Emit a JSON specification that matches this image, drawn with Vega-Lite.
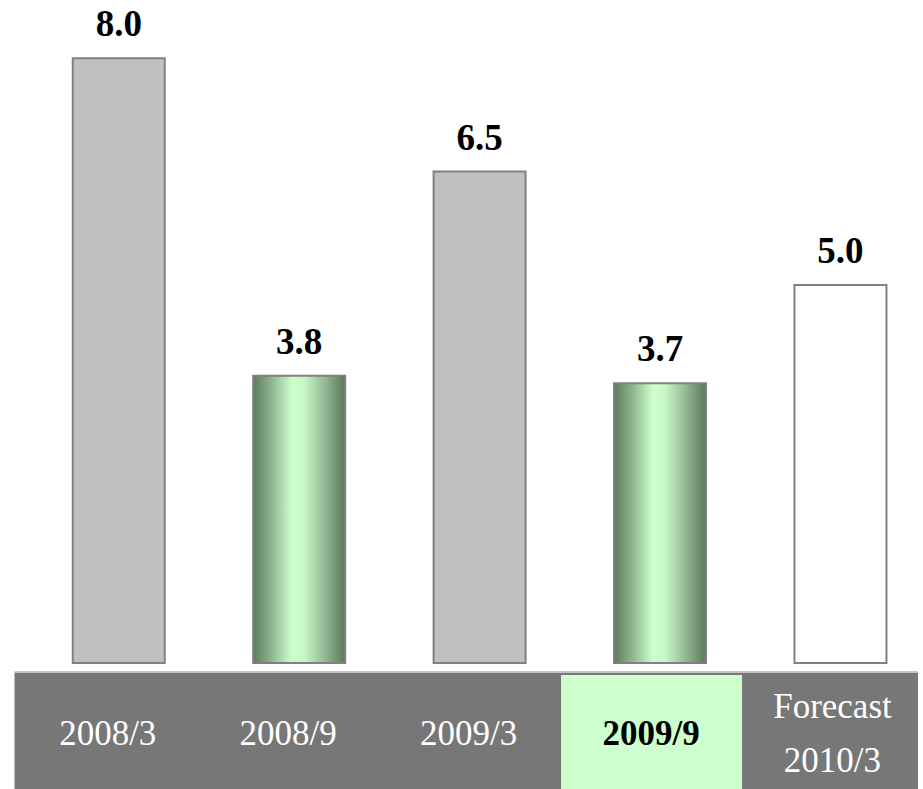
{
  "$schema": "https://vega.github.io/schema/vega-lite/v6.json",
  "width": 923,
  "height": 789,
  "autosize": {"type": "fit", "contains": "padding"},
  "padding": 0,
  "background": "white",
  "config": {"view": {"stroke": null}},
  "data": {"values": [
    {"i": 0, "period": "2008/3", "label": ["2008/3"], "value": 8.0, "kind": "past"},
    {"i": 1, "period": "2008/9", "label": ["2008/9"], "value": 3.8, "kind": "half"},
    {"i": 2, "period": "2009/3", "label": ["2009/3"], "value": 6.5, "kind": "past"},
    {"i": 3, "period": "2009/9", "label": ["2009/9"], "value": 3.7, "kind": "half"},
    {"i": 4, "period": "Forecast 2010/3", "label": ["Forecast", "2010/3"], "value": 5.0, "kind": "forecast"}
  ]},
  "encoding": {
    "x": {"field": "i", "type": "quantitative", "scale": {"domain": [-0.6305, 4.4298], "nice": false, "zero": false}, "axis": null}
  },
  "layer": [
    {
      "mark": {"type": "rect", "fill": "#777777"},
      "encoding": {
        "x": {"datum": -0.5757, "type": "quantitative"},
        "x2": {"datum": 4.4298},
        "y": {"datum": -0.119, "type": "quantitative", "scale": {"domain": [-1.667, 8.77], "nice": false, "zero": false}, "axis": null},
        "y2": {"datum": -1.667}
      }
    },
    {
      "mark": {"type": "rule", "color": "#c4c4c4", "strokeWidth": 1.5},
      "encoding": {
        "x": {"datum": -0.5757, "type": "quantitative"},
        "x2": {"datum": 4.4298},
        "y": {"datum": -0.119, "type": "quantitative"}
      }
    },
    {
      "transform": [{"filter": "datum.i == 3"}],
      "mark": {"type": "bar", "fill": "#ccffcc", "size": 181, "xOffset": -8.5},
      "encoding": {
        "y": {"datum": -0.159, "type": "quantitative"},
        "y2": {"datum": -1.667}
      }
    },
    {
      "transform": [{"filter": "datum.kind == 'past'"}],
      "mark": {"type": "bar", "fill": "#c0c0c0", "stroke": "#808080", "strokeWidth": 2, "size": 92},
      "encoding": {
        "y": {"field": "value", "type": "quantitative"},
        "y2": {"datum": 0}
      }
    },
    {
      "transform": [{"filter": "datum.kind == 'half'"}],
      "mark": {"type": "bar", "size": 92, "stroke": "#808080", "strokeWidth": 2,
        "fill": {"gradient": "linear", "x1": 0, "x2": 1, "y1": 0, "y2": 0,
          "stops": [
            {"offset": 0, "color": "#5c7c5c"},
            {"offset": 0.2, "color": "#8fb58f"},
            {"offset": 0.42, "color": "#ccffcc"},
            {"offset": 0.55, "color": "#c8f8c8"},
            {"offset": 0.8, "color": "#8fb28f"},
            {"offset": 1, "color": "#5a785a"}
          ]}},
      "encoding": {
        "y": {"field": "value", "type": "quantitative"},
        "y2": {"datum": 0}
      }
    },
    {
      "transform": [{"filter": "datum.kind == 'forecast'"}],
      "mark": {"type": "bar", "fill": "#ffffff", "stroke": "#808080", "strokeWidth": 2, "size": 92},
      "encoding": {
        "y": {"field": "value", "type": "quantitative"},
        "y2": {"datum": 0}
      }
    },
    {
      "mark": {"type": "text", "font": "Liberation Serif", "fontWeight": "bold", "fontSize": 37, "baseline": "alphabetic", "dy": -22, "color": "#000000"},
      "encoding": {
        "y": {"field": "value", "type": "quantitative"},
        "text": {"field": "value", "type": "quantitative", "format": ".1f"}
      }
    },
    {
      "transform": [{"filter": "datum.i < 3"}],
      "mark": {"type": "text", "font": "Liberation Serif", "fontSize": 35, "baseline": "middle", "dx": -11, "color": "#ffffff"},
      "encoding": {
        "y": {"datum": -0.939, "type": "quantitative"},
        "text": {"field": "period"}
      }
    },
    {
      "transform": [{"filter": "datum.i == 4"}],
      "mark": {"type": "text", "font": "Liberation Serif", "fontSize": 35, "baseline": "middle", "dx": -8, "dy": -27, "lineHeight": 54, "color": "#ffffff"},
      "encoding": {
        "y": {"datum": -0.939, "type": "quantitative"},
        "text": {"field": "label"}
      }
    },
    {
      "transform": [{"filter": "datum.i == 3"}],
      "mark": {"type": "text", "font": "Liberation Serif", "fontSize": 35, "fontWeight": "bold", "baseline": "middle", "dx": -9, "color": "#000000"},
      "encoding": {
        "y": {"datum": -0.939, "type": "quantitative"},
        "text": {"field": "period"}
      }
    }
  ]
}
